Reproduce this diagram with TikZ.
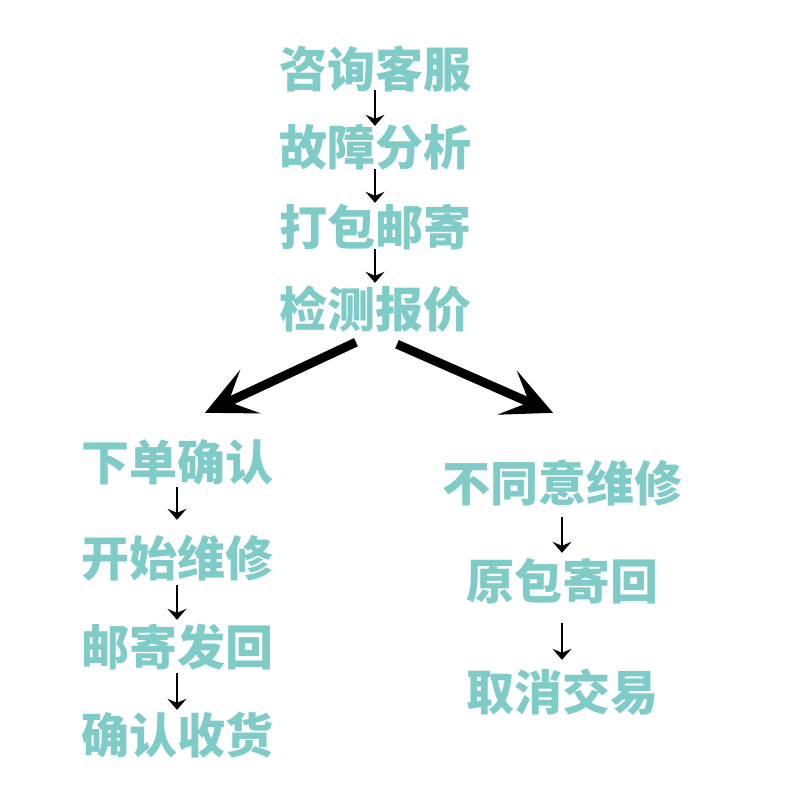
\documentclass[tikz,border=0pt]{standalone}
\usepackage{fontspec}
\newfontfamily\cjk{Noto Sans CJK SC}
\usetikzlibrary{arrows.meta,calc}
\definecolor{teal1}{RGB}{127,203,199}
\tikzset{
  lbl/.style={font=\cjk\bfseries\fontsize{48pt}{52pt}\selectfont, text=teal1, inner sep=0pt,
    text height=40pt, text depth=4pt},
  small/.style={line width=2.8pt, -{Stealth[length=11pt,width=19pt,inset=4pt]}},
  big/.style={line width=9pt, -{Stealth[length=50pt,width=48pt,inset=24pt]}}
}
\begin{document}
\begin{tikzpicture}[x=1pt,y=-1pt]
\useasboundingbox (0,0) rectangle (800,800);
\fill[white] (0,0) rectangle (800,800);
% main column
\node[lbl] (a1) at (375,70) {咨询客服};
\node[lbl] (a2) at (375,147) {故障分析};
\node[lbl] (a3) at (375,227) {打包邮寄};
\node[lbl] (a4) at (375,309) {检测报价};
% left column
\node[lbl] (l1) at (177,462) {下单确认};
\node[lbl] (l2) at (177,558) {开始维修};
\node[lbl] (l3) at (177,647) {邮寄发回};
\node[lbl] (l4) at (177,735) {确认收货};
% right column
\node[lbl] (r1) at (562,483) {不同意维修};
\node[lbl] (r2) at (562,581) {原包寄回};
\node[lbl] (r3) at (562,692) {取消交易};
% small arrows
\draw[small, shorten <=-2pt, shorten >=-1pt] (a1.south) -- (a2.north);
\draw[small, shorten <=0pt, shorten >=2pt] (a2.south) -- (a3.north);
\draw[small, shorten <=0pt, shorten >=4pt] (a3.south) -- (a4.north);
\draw[small, shorten <=3pt, shorten >=16pt] (l1.south) -- (l2.north);
\draw[small, shorten <=5pt, shorten >=5pt] (l2.south) -- (l3.north);
\draw[small, shorten <=4pt, shorten >=3pt] (l3.south) -- (l4.north);
\draw[small, shorten <=12pt, shorten >=6pt] (r1.south) -- (r2.north);
\draw[small, shorten <=20pt, shorten >=10pt] (r2.south) -- (r3.north);
% big arrows
\draw[big] ($(a4.south)+(-19,11)$) -- ($(l1.north)+(28,-27)$);
\draw[big] ($(a4.south)+(22,13)$) -- ($(r1.north)+(-9,-48)$);
\end{tikzpicture}
\end{document}
